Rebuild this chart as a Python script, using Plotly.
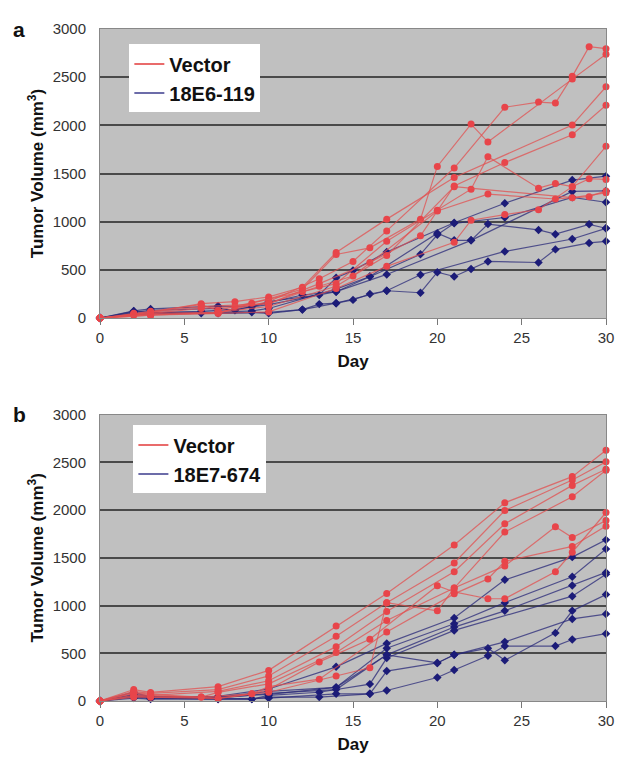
import plotly.graph_objects as go
from plotly.subplots import make_subplots

# ---- panel a : Vector vs 18E6-119 (days, tumor volume mm3) ----
a_vector = [
    ([0, 2, 3, 6, 8, 10, 12, 14, 17, 21, 28, 30],
     [0, 40, 60, 150, 170, 220, 320, 680, 1027, 1459, 2003, 2401]),
    ([0, 2, 3, 6, 7, 10, 12, 14, 16, 19, 20, 22, 23, 28, 30],
     [0, 50, 70, 140, 80, 200, 300, 660, 729, 1027, 1574, 2013, 1827, 2480, 2739]),
    ([0, 3, 7, 10, 13, 15, 17, 21, 24, 26, 27, 28, 29, 30],
     [0, 50, 60, 170, 409, 588, 905, 1557, 2188, 2242, 2232, 2509, 2817, 2796]),
    ([0, 2, 6, 8, 10, 13, 16, 19, 21, 24, 28, 30],
     [0, 30, 100, 120, 150, 358, 577, 854, 1371, 1614, 1902, 2209]),
    ([0, 3, 7, 9, 12, 14, 17, 20, 22, 23, 26, 27, 28, 29, 30],
     [0, 40, 50, 155, 274, 358, 797, 1118, 1338, 1675, 1348, 1398, 1364, 1446, 1439]),
    ([0, 3, 7, 10, 14, 17, 21, 22, 24, 26, 28, 30],
     [0, 30, 50, 64, 307, 537, 787, 1016, 1074, 1125, 1364, 1783]),
    ([0, 2, 6, 10, 13, 15, 20, 23, 27, 29, 30],
     [0, 40, 120, 150, 330, 436, 1111, 1287, 1236, 1260, 1320]),
    ([0, 3, 7, 10, 14, 17, 21, 28, 30],
     [0, 30, 60, 120, 330, 650, 1364, 1250, 1300]),
]
a_treated = [
    ([0, 2, 3, 7, 9, 10, 13, 14, 15, 17, 21, 24, 28, 30],
     [0, 74, 95, 125, 115, 172, 240, 419, 493, 686, 990, 1192, 1432, 1473]),
    ([0, 2, 3, 7, 8, 10, 12, 14, 16, 19, 20, 21, 24, 28, 30],
     [0, 60, 80, 100, 81, 160, 240, 274, 432, 662, 865, 983, 1044, 1253, 1202]),
    ([0, 2, 6, 8, 10, 14, 17, 22, 28, 30],
     [0, 50, 70, 90, 140, 274, 453, 807, 1314, 1320]),
    ([0, 2, 3, 7, 9, 10, 14, 16, 20, 21, 22, 23, 26, 27, 29, 30],
     [0, 70, 60, 60, 74, 100, 300, 432, 881, 807, 807, 976, 915, 871, 973, 932]),
    ([0, 3, 7, 10, 12, 13, 14, 15, 16, 17, 19, 24, 28, 30],
     [0, 50, 50, 60, 88, 145, 155, 189, 250, 284, 450, 692, 821, 932]),
    ([0, 2, 6, 9, 10, 12, 14, 17, 19, 20, 21, 22, 23, 26, 27, 29, 30],
     [0, 40, 50, 60, 50, 88, 155, 284, 263, 476, 432, 510, 588, 577, 713, 780, 797]),
]

# ---- panel b : Vector vs 18E7-674 ----
b_vector = [
    ([0, 2, 3, 7, 10, 14, 17, 21, 24, 28, 30],
     [0, 120, 90, 150, 321, 785, 1126, 1635, 2078, 2352, 2628]),
    ([0, 2, 3, 7, 10, 14, 17, 21, 24, 28, 30],
     [0, 100, 80, 120, 263, 679, 1031, 1447, 1997, 2317, 2508]),
    ([0, 2, 3, 7, 10, 14, 17, 21, 24, 28, 30],
     [0, 80, 60, 100, 212, 570, 939, 1355, 1857, 2260, 2430]),
    ([0, 2, 6, 7, 10, 14, 17, 21, 24, 28, 30],
     [0, 60, 41, 90, 180, 509, 843, 1184, 1771, 2140, 2420]),
    ([0, 2, 6, 9, 10, 13, 16, 20, 21, 23, 24, 27, 28, 30],
     [0, 40, 41, 75, 120, 410, 648, 1208, 1143, 1072, 1072, 1355, 1559, 1976]),
    ([0, 2, 3, 7, 10, 14, 16, 17, 20, 21, 24, 27, 28, 30],
     [0, 90, 70, 30, 92, 263, 348, 1031, 945, 1184, 1416, 1826, 1713, 1891]),
    ([0, 2, 3, 7, 9, 10, 13, 17, 21, 23, 24, 28, 30],
     [0, 50, 40, 24, 75, 150, 229, 724, 1123, 1280, 1464, 1620, 1833]),
]
b_treated = [
    ([0, 2, 3, 7, 10, 14, 17, 21, 24, 28, 30],
     [0, 92, 41, 50, 126, 358, 604, 870, 1270, 1508, 1689]),
    ([0, 2, 3, 7, 10, 14, 17, 21, 24, 28, 30],
     [0, 70, 50, 40, 100, 143, 553, 809, 1031, 1303, 1594]),
    ([0, 2, 3, 7, 10, 14, 17, 21, 24, 28, 30],
     [0, 60, 40, 30, 80, 120, 484, 775, 945, 1211, 1348]),
    ([0, 2, 3, 7, 9, 10, 13, 16, 17, 21, 28, 30],
     [0, 50, 30, 20, 20, 58, 92, 177, 450, 740, 1099, 1328]),
    ([0, 2, 3, 7, 9, 10, 13, 16, 17, 20, 21, 23, 24, 27, 28, 30],
     [0, 40, 30, 20, 20, 40, 41, 75, 314, 399, 484, 553, 426, 714, 945, 1116]),
    ([0, 2, 3, 7, 10, 14, 16, 17, 20, 21, 23, 24, 27, 28, 30],
     [0, 30, 20, 20, 30, 75, 75, 110, 246, 325, 474, 576, 576, 645, 706]),
    ([0, 2, 3, 7, 10, 14, 17, 20, 21, 24, 28, 30],
     [0, 50, 40, 40, 70, 143, 484, 399, 484, 620, 860, 911]),
]

x_ticks = [0, 5, 10, 15, 20, 25, 30]
y_ticks = [0, 500, 1000, 1500, 2000, 2500, 3000]

red = "#e8454a"
red_line = "rgba(225,80,80,0.75)"
navy = "#1c1c78"
navy_line = "rgba(40,40,120,0.75)"
font = "Liberation Sans, Arial, sans-serif"

fig = make_subplots(rows=2, cols=1, vertical_spacing=0.1441)
fig.update_yaxes(domain=[0.5698, 1.0], row=1, col=1)
fig.update_yaxes(domain=[0.0, 0.4259], row=2, col=1)


def add_group(groups, row, line_col, mk_col, symbol, size):
    for days, vols in groups:
        fig.add_trace(go.Scatter(
            x=days, y=vols, mode="lines+markers", showlegend=False,
            line=dict(color=line_col, width=1.2),
            marker=dict(color=mk_col, symbol=symbol, size=size),
            cliponaxis=False), row=row, col=1)


add_group(a_treated, 1, navy_line, navy, "diamond", 6.5)
add_group(a_vector, 1, red_line, red, "circle", 7)
add_group(b_treated, 2, navy_line, navy, "diamond", 6.5)
add_group(b_vector, 2, red_line, red, "circle", 7)

# legend-only entries (line sample, no marker)
for name, col, lg, row in [("Vector", "#e23a3a", "legend", 1),
                           ("18E6-119", "#3b3b8c", "legend", 1),
                           ("Vector", "#e23a3a", "legend2", 2),
                           ("18E7-674", "#3b3b8c", "legend2", 2)]:
    fig.add_trace(go.Scatter(x=[None], y=[None], mode="lines", name=f"<b>{name}</b>",
                             line=dict(color=col, width=1.5), legend=lg),
                  row=row, col=1)

legend_style = dict(bgcolor="white", borderwidth=0, xanchor="left", yanchor="top",
                    font=dict(family=font, size=20, color="#111"),
                    itemwidth=30, tracegroupgap=0, entrywidth=125)
# page body adds an 8px offset, so the figure is drawn 8px smaller
fig.update_layout(
    width=618, height=755,
    margin=dict(l=92, r=12, t=13, b=54),
    paper_bgcolor="white",
    plot_bgcolor="#c0c0c0",
    font=dict(family=font, size=15, color="#333"),
    legend=dict(x=0.058, y=0.977, **legend_style),
    legend2=dict(x=0.066, y=0.41, **legend_style),
)

for row in (1, 2):
    fig.update_xaxes(range=[0, 30], tickvals=x_ticks, ticks="outside", ticklen=6,
                     tickcolor="#777", showgrid=False, zeroline=False,
                     showline=True, linecolor="#888", linewidth=1, mirror=True,
                     tickfont=dict(size=15, color="#333"),
                     title=dict(text="<b>Day</b>", font=dict(size=17, color="#111"), standoff=10),
                     row=row, col=1)
    fig.update_yaxes(range=[0, 3000], tickvals=y_ticks, ticks="outside", ticklen=10,
                     tickcolor="rgba(0,0,0,0)", showgrid=True,
                     gridcolor="#4a4a4a", gridwidth=1.5, zeroline=False,
                     showline=True, linecolor="#888", linewidth=1, mirror=True,
                     tickfont=dict(size=15, color="#333"),
                     title=dict(text="<b>Tumor Volume (mm<sup>3</sup>)</b>",
                                font=dict(size=17, color="#111"), standoff=4),
                     row=row, col=1)

fig.add_annotation(text="<b>a</b>", x=0.0, y=1.0, xref="paper", yref="paper",
                   xanchor="center", yanchor="middle", xshift=-81, yshift=0,
                   showarrow=False, font=dict(family=font, size=21, color="#111"))
fig.add_annotation(text="<b>b</b>", x=0.0, y=0.4259, xref="paper", yref="paper",
                   xanchor="center", yanchor="middle", xshift=-81, yshift=0,
                   showarrow=False, font=dict(family=font, size=21, color="#111"))

fig.write_html("out.html")
